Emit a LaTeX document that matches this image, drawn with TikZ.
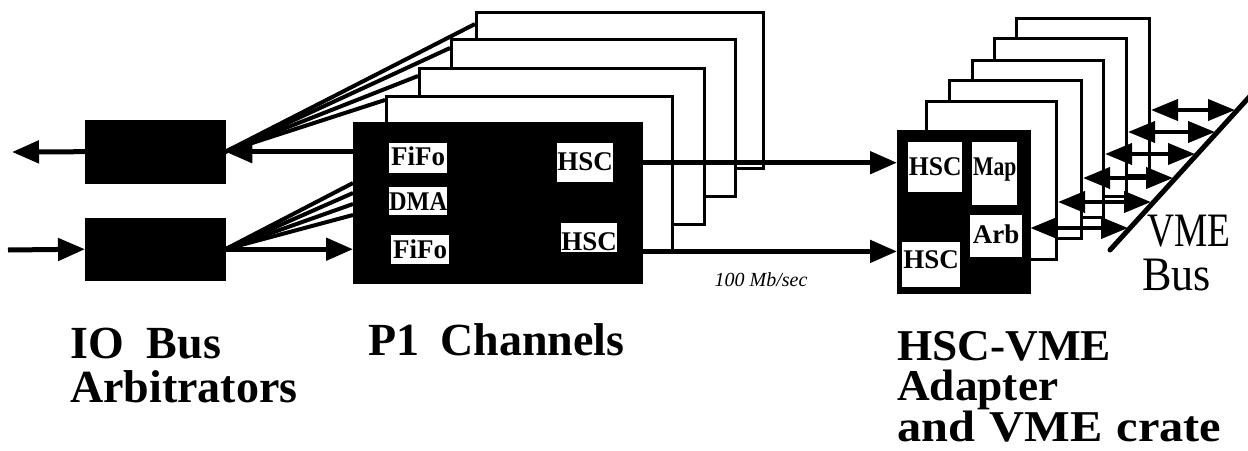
\documentclass[tikz,border=0pt]{standalone}
\usepackage{fontspec}
\usepackage{graphicx}
\setmainfont{Liberation Serif}
\usetikzlibrary{arrows.meta}
\newcommand{\hsq}[2]{\scalebox{#1}[1]{#2}}
\begin{document}
\begin{tikzpicture}[x=1pt,y=-1pt,
  blk/.style={fill=black,draw=black,inner sep=0pt,anchor=north west},
  board/.style={draw=black,line width=3pt,fill=white,inner sep=0pt,anchor=north west},
  wbox/.style={fill=white,inner sep=0pt,align=center,anchor=north west,font=\fontsize{27}{27}\selectfont\bfseries},
  wire/.style={line width=5pt},
  fan/.style={line width=4pt},
  arr/.style={-{Triangle[length=27pt,width=22pt]}},
  darr/.style={line width=4pt,{Triangle[length=27pt,width=21pt]}-{Triangle[length=27pt,width=21pt]}},
  biglbl/.style={inner sep=0pt,anchor=base west,text depth=0pt,font=\fontsize{46}{46}\selectfont\bfseries},
  vmelbl/.style={inner sep=0pt,anchor=base west,text depth=0pt,font=\fontsize{48}{48}\selectfont},
  hand/.style={inner sep=0pt,font=\fontsize{20}{20}\selectfont\itshape}
]
\useasboundingbox (0,0) rectangle (1248,450);

% ---- IO bus arbitrators
\node[blk,minimum width=140pt,minimum height=63pt] (io1) at (85,120) {};
\node[blk,minimum width=140pt,minimum height=62pt] (io2) at (85,218) {};

% ---- P1 boards (back to front) and fan lines
\coordinate (f1) at (475,24);
\coordinate (f2) at (450,48);
\coordinate (f3) at (418,76);
\coordinate (f4) at (385,100);
\draw[fan] (io1.east) -- (f1);
\draw[fan] (io1.east) -- (f2);
\draw[fan] (io1.east) -- (f3);
\draw[fan] (io1.east) -- (f4);
\node[board,minimum width=287pt,minimum height=156pt] (b4) at (475,11) {};
\node[board,minimum width=284pt,minimum height=157pt] (b3) at (450,38) {};
\node[board,minimum width=285pt,minimum height=156pt] (b2) at (418,67) {};
\node[board,minimum width=286pt,minimum height=155pt] (b1) at (385,95) {};

\coordinate (g1) at (353,183);
\coordinate (g2) at (353,193);
\coordinate (g3) at (353,204);
\coordinate (g4) at (353,215);
\draw[fan] (io2.east) -- (g1);
\draw[fan] (io2.east) -- (g2);
\draw[fan] (io2.east) -- (g3);
\draw[fan] (io2.east) -- (g4);

% ---- P1 channel box
\node[blk,minimum width=289pt,minimum height=161pt] (p1) at (353,122) {};
\node[wbox,text width=58pt,text height=22pt,text depth=8pt] (fifoA) at (389,143) {FiFo};
\node[wbox,text width=58pt,text height=23pt,text depth=5pt] (dma) at (389,187) {\hsq{0.9}{DMA}};
\node[wbox,text width=58pt,text height=23pt,text depth=6pt] (fifoB) at (391,235) {FiFo};
\node[wbox,text width=56pt,text height=27pt,text depth=12pt] (hscA) at (557,143) {HSC};
\node[wbox,text width=56pt,text height=27pt,text depth=2pt] (hscB) at (561,223) {HSC};

% ---- connectors on the left
\coordinate (outL) at (12,152);
\coordinate (inL) at (8,250);
\draw[wire,arr] (io1.west) -- (outL);
\draw[wire,arr] (io1.east -| p1.west) -- (io1.east);
\draw[wire,arr] (inL) -- (io2.west);
\draw[wire,arr] (io2.east) -- (io2.east -| p1.west);

% ---- VME crate boards (back to front)
\node[board,minimum width=133pt,minimum height=157pt] (v5) at (1015,17) {};
\node[board,minimum width=132pt,minimum height=158pt] (v4) at (993,37) {};
\node[board,minimum width=131pt,minimum height=157pt] (v3) at (971,59) {};
\node[board,minimum width=132pt,minimum height=158pt] (v2) at (948,79) {};
\node[board,minimum width=130pt,minimum height=158pt] (v1) at (925,100) {};

% ---- HSC-VME adapter box
\node[blk,minimum width=133pt,minimum height=163pt] (vme) at (897,130) {};
\node[wbox,text width=54pt,text height=33pt,text depth=17pt] (hscC) at (908,142) {\hsq{0.95}{HSC}};
\node[wbox,text width=45pt,text height=33pt,text depth=30pt] (map) at (972,142) {\hsq{0.8}{Map}};
\node[wbox,text width=52pt,text height=28pt,text depth=14pt] (arb) at (970,215) {Arb};
\node[wbox,text width=58pt,text height=26pt,text depth=19pt] (hscD) at (902,242) {HSC};

% ---- HSC links, 100 Mb/sec
\draw[wire,arr] (hscA.east -| p1.east) -- (hscA.east -| vme.west);
\draw[wire,arr] ([yshift=32pt]p1.south east) -- ([yshift=32pt]p1.south east -| vme.west);
\node[hand] (rate) at (761,280) {100 Mb/sec};

% ---- VME bus
\coordinate (bus1) at (1110,250);
\coordinate (bus2) at (1252,94);
\coordinate (d5) at (1235,110);
\coordinate (d4) at (1215,132);
\coordinate (d3) at (1195,154);
\coordinate (d2) at (1173,178);
\coordinate (d1) at (1151,202);
\coordinate (d0) at (1128,228);
\draw[darr] (v5.east |- d5) -- (d5);
\draw[darr] (v4.east |- d4) -- (d4);
\draw[darr] (v3.east |- d3) -- (d3);
\draw[darr] (v2.east |- d2) -- (d2);
\draw[darr] (v1.east |- d1) -- (d1);
\draw[darr] (vme.east |- d0) -- (d0);
\draw[line width=5pt,line cap=round] (bus1) -- (bus2);

% ---- labels
\node[biglbl] (lio) at (70,358) {IO\hspace{23pt}Bus};
\node[biglbl] (larb) at (70,402) {Arbitrators};
\node[biglbl] (lp1) at (368,355) {P1\hspace{21pt}Channels};
\node[biglbl,font=\fontsize{44}{44}\selectfont\bfseries] (lh1) at (897,360) {\hsq{1.03}{HSC-VME}};
\node[biglbl,font=\fontsize{44}{44}\selectfont\bfseries] (lh2) at (897,400) {\hsq{1.03}{Adapter}};
\node[biglbl,font=\fontsize{44}{44}\selectfont\bfseries] (lh3) at (897,441) {\hsq{1.1}{and\hspace{13pt}VME\hspace{13pt}crate}};
\node[vmelbl] (lv1) at (1147,246) {\hsq{0.78}{VME}};
\node[vmelbl] (lv2) at (1142,290) {\hsq{0.92}{Bus}};
\end{tikzpicture}
\end{document}
